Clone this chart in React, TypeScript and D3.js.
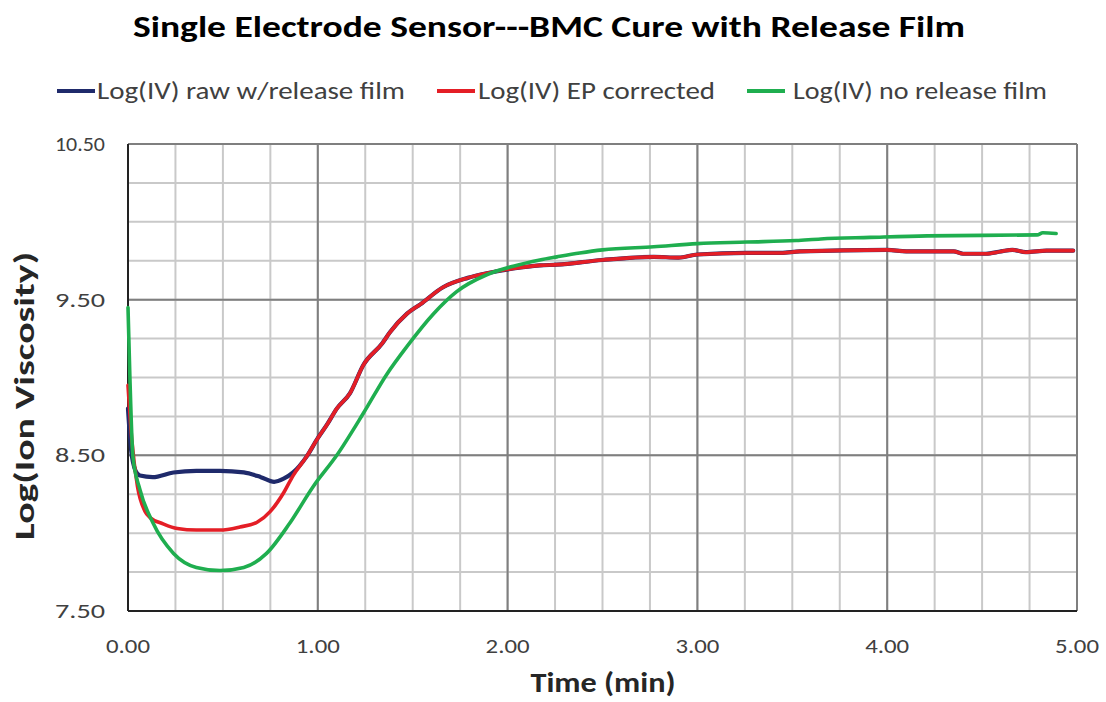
import React from "react";
import * as d3 from "d3";

const title = "Single Electrode Sensor---BMC Cure with Release Film";
const seriesNames = ["Log(IV) raw w/release film", "Log(IV) EP corrected", "Log(IV) no release film"];
const seriesColors = ["#1f2a6b", "#e41e26", "#1fae4f"];

const xTicks = [0, 1, 2, 3, 4, 5];
const yTicks = [7.5, 8.5, 9.5, 10.5];

const rawTime = [0, 0.015, 0.04, 0.063, 0.13, 0.24, 0.36, 0.485, 0.61, 0.7, 0.77, 0.82, 0.87, 0.94, 1.0, 1.05, 1.1, 1.17, 1.24, 1.34, 1.38, 1.47, 1.54, 1.66, 1.79, 1.89, 2.03, 2.17, 2.26, 2.5, 2.77, 2.9, 3.0, 3.26, 3.44, 3.54, 4.0, 4.1, 4.35, 4.4, 4.52, 4.6, 4.66, 4.73, 4.84, 4.98];
const rawValue = [8.8, 8.55, 8.4, 8.37, 8.36, 8.39, 8.4, 8.4, 8.39, 8.36, 8.33, 8.35, 8.39, 8.49, 8.61, 8.7, 8.8, 8.9, 9.08, 9.22, 9.29, 9.41, 9.47, 9.58, 9.64, 9.67, 9.7, 9.72, 9.725, 9.755, 9.775, 9.77, 9.79, 9.8, 9.8, 9.81, 9.82, 9.81, 9.81, 9.795, 9.795, 9.81, 9.82, 9.805, 9.815, 9.815];

const epTime = [0, 0.02, 0.05, 0.09, 0.116, 0.185, 0.26, 0.36, 0.485, 0.59, 0.68, 0.75, 0.82, 0.87, 0.94, 1.0, 1.05, 1.1, 1.17, 1.24, 1.34, 1.38, 1.47, 1.54, 1.66, 1.79, 1.89, 2.03, 2.17, 2.26, 2.5, 2.77, 2.9, 3.0, 3.26, 3.44, 3.54, 4.0, 4.1, 4.35, 4.4, 4.52, 4.6, 4.66, 4.73, 4.84, 4.98];
const epValue = [8.95, 8.6, 8.3, 8.14, 8.1, 8.06, 8.03, 8.02, 8.02, 8.04, 8.07, 8.14, 8.26, 8.37, 8.49, 8.61, 8.7, 8.8, 8.9, 9.08, 9.22, 9.29, 9.41, 9.47, 9.58, 9.64, 9.67, 9.7, 9.72, 9.725, 9.755, 9.775, 9.77, 9.79, 9.8, 9.8, 9.81, 9.82, 9.81, 9.81, 9.795, 9.795, 9.81, 9.82, 9.805, 9.815, 9.815];

const noFilmTime = [0, 0.01, 0.026, 0.063, 0.13, 0.24, 0.36, 0.485, 0.61, 0.73, 0.85, 0.976, 1.1, 1.24, 1.363, 1.47, 1.61, 1.73, 1.89, 2.03, 2.17, 2.26, 2.38, 2.5, 2.77, 3.0, 3.26, 3.52, 3.65, 3.91, 4.21, 4.79, 4.82, 4.89];
const noFilmValue = [9.45, 9.0, 8.49, 8.28, 8.07, 7.87, 7.78, 7.76, 7.78, 7.87, 8.06, 8.3, 8.5, 8.77, 9.02, 9.2, 9.41, 9.55, 9.66, 9.715, 9.755, 9.775, 9.8, 9.82, 9.84, 9.86, 9.87, 9.88, 9.89, 9.9, 9.91, 9.916, 9.93, 9.925];

const W = 1106;
const H = 702;
const M = { left: 128, right: 1077, top: 144, bottom: 611 };

export default function App() {
  const x = d3.scaleLinear().domain([0, 5]).range([M.left, M.right]);
  const y = d3.scaleLinear().domain([7.5, 10.5]).range([M.bottom, M.top]);

  const minorX = d3.range(0, 5.001, 0.25);
  const minorY = d3.range(7.5, 10.501, 0.25);

  const line = d3
    .line<[number, number]>()
    .x((d) => x(d[0]))
    .y((d) => y(d[1]))
    .curve(d3.curveMonotoneX);

  const series = [
    { t: rawTime, v: rawValue },
    { t: epTime, v: epValue },
    { t: noFilmTime, v: noFilmValue },
  ];

  const legendItems = [
    { lx: 57, tx: 97, w: 308 },
    { lx: 437, tx: 478, w: 237 },
    { lx: 747, tx: 793, w: 254 },
  ];

  const font = "Calibri, Carlito, Lato, 'Open Sans', sans-serif";

  return (
    <svg width={W} height={H} style={{ position: "absolute", left: 0, top: 0, background: "#fff" }}>
      <rect x={0} y={0} width={W} height={H} fill="#fff" />
      <text x={549} y={37} textAnchor="middle" fontFamily={font} fontWeight="bold" fontSize={31} fill="#000" textLength={832} lengthAdjust="spacingAndGlyphs">
        {title}
      </text>

      {seriesNames.map((n, i) => (
        <g key={n}>
          <line x1={legendItems[i].lx} x2={legendItems[i].lx + 38} y1={91} y2={91} stroke={seriesColors[i]} strokeWidth={4} />
          <text x={legendItems[i].tx} y={99} fontFamily={font} fontSize={24} fill="#404040" textLength={legendItems[i].w} lengthAdjust="spacingAndGlyphs">
            {n}
          </text>
        </g>
      ))}

      {minorX.map((v) => (
        <line key={"mx" + v} x1={x(v)} x2={x(v)} y1={M.top} y2={M.bottom} stroke="#c9c9c9" strokeWidth={2} />
      ))}
      {minorY.map((v) => (
        <line key={"my" + v} x1={M.left} x2={M.right} y1={y(v)} y2={y(v)} stroke="#c9c9c9" strokeWidth={2} />
      ))}
      {xTicks.map((v) => (
        <line key={"Mx" + v} x1={x(v)} x2={x(v)} y1={M.top} y2={M.bottom} stroke="#7f7f7f" strokeWidth={2} />
      ))}
      {yTicks.map((v) => (
        <line key={"My" + v} x1={M.left} x2={M.right} y1={y(v)} y2={y(v)} stroke="#7f7f7f" strokeWidth={2} />
      ))}

      <line x1={M.left} x2={M.left} y1={M.top} y2={M.bottom} stroke="#222" strokeWidth={2} />
      <line x1={M.left} x2={M.right} y1={M.bottom} y2={M.bottom} stroke="#222" strokeWidth={2} />

      {series.map((s, i) => (
        <path
          key={"s" + i}
          d={line(s.t.map((t, j) => [t, s.v[j]] as [number, number])) || ""}
          fill="none"
          stroke={seriesColors[i]}
          strokeWidth={i === 0 ? 4.2 : 3.6}
          strokeLinejoin="round"
          strokeLinecap="round"
        />
      ))}

      {yTicks.map((v) => (
        <text key={"yt" + v} x={105} y={y(v) + 7} textAnchor="end" fontFamily={font} fontSize={20} fill="#404040" textLength={50} lengthAdjust="spacingAndGlyphs">
          {v.toFixed(2)}
        </text>
      ))}
      {xTicks.map((v) => (
        <text key={"xt" + v} x={x(v)} y={653} textAnchor="middle" fontFamily={font} fontSize={20} fill="#404040" textLength={44} lengthAdjust="spacingAndGlyphs">
          {v.toFixed(2)}
        </text>
      ))}

      <text x={603} y={692} textAnchor="middle" fontFamily={font} fontWeight="bold" fontSize={28} fill="#262626" textLength={145} lengthAdjust="spacingAndGlyphs">
        Time (min)
      </text>
      <text
        transform={`translate(34,396) rotate(-90)`}
        textAnchor="middle"
        fontFamily={font}
        fontWeight="bold"
        fontSize={28}
        fill="#262626"
        textLength={288}
        lengthAdjust="spacingAndGlyphs"
      >
        Log(Ion Viscosity)
      </text>
    </svg>
  );
}
